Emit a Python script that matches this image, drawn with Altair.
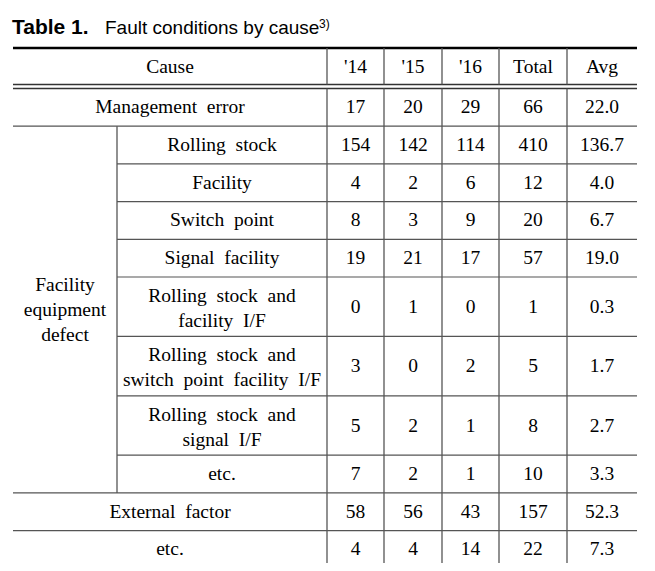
import altair as alt
import pandas as pd

# ---------------- data ----------------
title_bold = "Table 1."
title_text = "Fault conditions by cause"
title_note = "3)"

headers = ["Cause", "'14", "'15", "'16", "Total", "Avg"]
causes = [
    "Management error",
    "Rolling stock",
    "Facility",
    "Switch point",
    "Signal facility",
    "Rolling stock and\nfacility I/F",
    "Rolling stock and\nswitch point facility I/F",
    "Rolling stock and\nsignal I/F",
    "etc.",
    "External factor",
    "etc.",
]
group_label = "Facility\nequipment\ndefect"
in_group = [False, True, True, True, True, True, True, True, True, False, False]
v14 = [17, 154, 4, 8, 19, 0, 3, 5, 7, 58, 4]
v15 = [20, 142, 2, 3, 21, 1, 0, 2, 2, 56, 4]
v16 = [29, 114, 6, 9, 17, 0, 2, 1, 1, 43, 14]
totals = [66, 410, 12, 20, 57, 1, 5, 8, 10, 157, 22]
avgs = [22.0, 136.7, 4.0, 6.7, 19.0, 0.3, 1.7, 2.7, 3.3, 52.3, 7.3]

# ---------------- layout ----------------
W, H = 639, 555
col_edges = [5, 109, 319, 376, 434, 491, 559, 629]
top, head_bot, body_top = 40, 76.5, 80.5
h_single, h_double = 37.7, 59.4
LH = 25

row_h = [h_double if "\n" in c else h_single for c in causes]
edges = [body_top]
for h in row_h:
    edges.append(edges[-1] + h)


def spaced(s):
    return s.replace(" ", "\u00a0 ")


def cx(j):
    return (col_edges[j] + col_edges[j + 1]) / 2


def first_line_y(center, s):
    n = s.count("\n") + 1
    if n == 1:
        return center
    return center - (n - 1) * LH / 2 + 1.5


texts = []
yh = (top + head_bot) / 2 + 1
texts.append(dict(x=(col_edges[0] + col_edges[2]) / 2, y=yh, t=headers[0]))
for j, h in enumerate(headers[1:]):
    texts.append(dict(x=cx(j + 2), y=yh, t=h))
for i, c in enumerate(causes):
    yc = (edges[i] + edges[i + 1]) / 2
    x0 = col_edges[1] if in_group[i] else col_edges[0]
    texts.append(dict(x=(x0 + col_edges[2]) / 2, y=first_line_y(yc, c), t=spaced(c)))
    vals = [v14[i], v15[i], v16[i], totals[i], f"{avgs[i]:.1f}"]
    for j, v in enumerate(vals):
        texts.append(dict(x=cx(j + 2), y=yc, t=str(v)))
gi = [i for i, g in enumerate(in_group) if g]
gy = (edges[gi[0]] + edges[gi[-1] + 1]) / 2
texts.append(dict(x=cx(0), y=first_line_y(gy, group_label) - 1.5, t=group_label))
text_df = pd.DataFrame(texts)

rules = []
L, R = col_edges[0], col_edges[-1]
rules.append(dict(x=L, x2=R, y=top, y2=top, w=2.5, c="#000000"))
rules.append(dict(x=L, x2=R, y=head_bot, y2=head_bot, w=1.5, c="#333333"))
rules.append(dict(x=L, x2=R, y=body_top, y2=body_top, w=1.5, c="#333333"))
rules.append(dict(x=L, x2=R, y=edges[-1], y2=edges[-1], w=2.5, c="#000000"))
for k in range(1, len(causes)):
    x0 = col_edges[1] if (in_group[k - 1] and in_group[k]) else L
    rules.append(dict(x=x0, x2=R, y=edges[k], y2=edges[k], w=1.2, c="#555555"))
for e in col_edges[2:-1]:
    rules.append(dict(x=e, x2=e, y=top, y2=head_bot, w=1.3, c="#555555"))
    rules.append(dict(x=e, x2=e, y=body_top, y2=edges[-1], w=1.3, c="#555555"))
rules.append(dict(x=col_edges[1], x2=col_edges[1], y=edges[gi[0]], y2=edges[gi[-1] + 1], w=1.3, c="#555555"))
rule_df = pd.DataFrame(rules)

title_df = pd.DataFrame([
    dict(x=4, y=26, t=title_bold, k="b"),
    dict(x=97, y=26, t=title_text, k="r"),
    dict(x=311, y=19.5, t=title_note, k="s"),
])

xs = alt.Scale(domain=[0, W], nice=False, zero=False)
ys = alt.Scale(domain=[0, H], nice=False, zero=False, reverse=True)

rule_layer = alt.Chart(rule_df).mark_rule().encode(
    x=alt.X("x:Q", scale=xs, axis=None),
    x2="x2:Q",
    y=alt.Y("y:Q", scale=ys, axis=None),
    y2="y2:Q",
    strokeWidth=alt.StrokeWidth("w:Q", scale=None),
    color=alt.Color("c:N", scale=None),
)

text_layer = alt.Chart(text_df).mark_text(
    font="Liberation Serif", fontSize=19.5, color="#000000", align="center",
    baseline="middle", lineBreak="\n", lineHeight=LH,
).encode(
    x=alt.X("x:Q", scale=xs, axis=None),
    y=alt.Y("y:Q", scale=ys, axis=None),
    text="t:N",
)

tb = alt.Chart(title_df[title_df.k == "b"]).mark_text(
    font="Liberation Sans", fontSize=21, fontWeight="bold", color="#000000",
    align="left", baseline="alphabetic",
).encode(x=alt.X("x:Q", scale=xs, axis=None), y=alt.Y("y:Q", scale=ys, axis=None), text="t:N")
tr = alt.Chart(title_df[title_df.k == "r"]).mark_text(
    font="Liberation Sans", fontSize=19, color="#000000",
    align="left", baseline="alphabetic",
).encode(x=alt.X("x:Q", scale=xs, axis=None), y=alt.Y("y:Q", scale=ys, axis=None), text="t:N")
ts = alt.Chart(title_df[title_df.k == "s"]).mark_text(
    font="Liberation Sans", fontSize=12, color="#000000",
    align="left", baseline="alphabetic",
).encode(x=alt.X("x:Q", scale=xs, axis=None), y=alt.Y("y:Q", scale=ys, axis=None), text="t:N")

chart = alt.layer(rule_layer, text_layer, tb, tr, ts).properties(
    width=W, height=H, padding=0, autosize=alt.AutoSizeParams(type="none"),
    background="#ffffff",
).configure_view(stroke=None)

chart.save("out.html", embed_options={"renderer": "svg", "actions": False})
